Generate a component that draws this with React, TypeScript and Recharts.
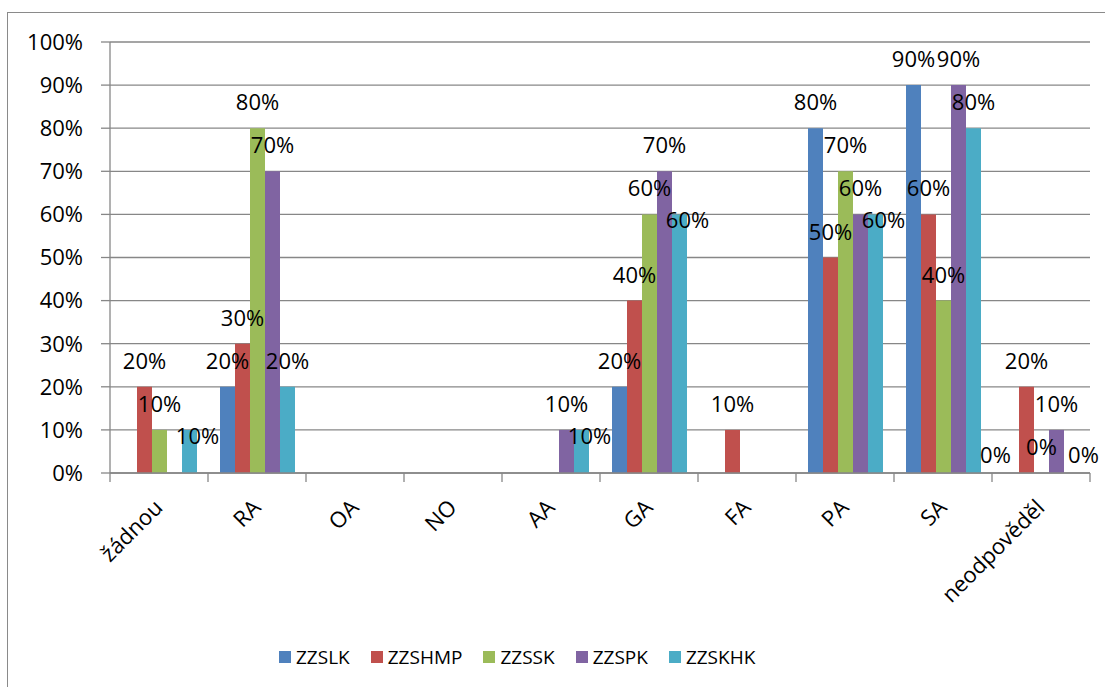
import { BarChart, Bar, XAxis, YAxis, CartesianGrid, Legend, LabelList } from "recharts";

// kategorie a hodnoty (v %), null = bez popisku
const categories = ["žádnou", "RA", "OA", "NO", "AA", "GA", "FA", "PA", "SA", "neodpověděl"];
const zzslk = [null, 20, null, null, null, 20, null, 80, 90, 0];
const zzshmp = [20, 30, null, null, null, 40, 10, 50, 60, 20];
const zzssk = [10, 80, null, null, null, 60, null, 70, 40, 0];
const zzspk = [null, 70, null, null, 10, 70, null, 60, 90, 10];
const zzskhk = [10, 20, null, null, 10, 60, null, 60, 80, 0];
const yTicks = [0, 10, 20, 30, 40, 50, 60, 70, 80, 90, 100];

const series = [
  { key: "ZZSLK", values: zzslk, color: "#4F81BD" },
  { key: "ZZSHMP", values: zzshmp, color: "#C0504D" },
  { key: "ZZSSK", values: zzssk, color: "#9BBB59" },
  { key: "ZZSPK", values: zzspk, color: "#8064A2" },
  { key: "ZZSKHK", values: zzskhk, color: "#4BACC6" },
];

const data = categories.map((name, i) => {
  const row: Record<string, any> = { name };
  series.forEach((s) => (row[s.key] = s.values[i]));
  return row;
});

const FONT = "'Open Sans', sans-serif";
const GRID = "#878787";
const W = 1105;
const H = 687;
const PLOT_TOP = 42;
const PLOT_BOTTOM = 473;
const PLOT_LEFT = 110;
const PLOT_RIGHT = 1090;
const BAND = (PLOT_RIGHT - PLOT_LEFT) / categories.length;
const BAR = 15;
const PX_PER_PCT = (PLOT_BOTTOM - PLOT_TOP) / 100;

// popisek osy X otočený o 45° + čárky na hranicích kategorií
const XTick = (props: any) => {
  const { x, y, payload, index } = props;
  const half = BAND / 2;
  return (
    <g>
      <line x1={x - half} x2={x - half} y1={y} y2={y + 9} stroke={GRID} strokeWidth={1.3} />
      {index === categories.length - 1 && (
        <line x1={x + half} x2={x + half} y1={y} y2={y + 9} stroke={GRID} strokeWidth={1.3} />
      )}
      <text
        transform={`translate(${x + 5},${y + 36}) rotate(-45)`}
        textAnchor="end"
        fontSize={22}
        fontFamily={FONT}
        fill="#000"
      >
        {payload.value}
      </text>
    </g>
  );
};

const LegendContent = (props: any) => {
  const items = [...(props.payload || [])].sort(
    (a: any, b: any) => series.findIndex((s) => s.key === a.value) - series.findIndex((s) => s.key === b.value)
  );
  return (
    <div style={{ display: "flex", alignItems: "center", fontFamily: FONT, fontSize: 19, color: "#000" }}>
      {items.map((p: any) => (
        <div key={p.value} style={{ display: "flex", alignItems: "center", marginRight: 21 }}>
          <span style={{ width: 12, height: 12, background: p.color, marginRight: 5, display: "inline-block" }} />
          {p.value}
        </div>
      ))}
    </div>
  );
};

const labelWidth = (v: number) => String(v).length * 12.5 + 18.5;

const overlaps = (a: number, b: number, dist: number) =>
  dist * BAR < (labelWidth(a) + labelWidth(b)) / 2 && Math.abs(a - b) * PX_PER_PCT < 20;

// popisek nad sloupcem; když by se překryl se sousedním, posune se
// (nulové popisky se roztáhnou do stran, ostatní jdou dolů)
const makeLabel = (si: number) => (props: any) => {
  const { x, y, width, value } = props;
  if (value === null || value === undefined) return null;
  const cat = Math.floor((x + width / 2 - PLOT_LEFT) / BAND);
  const cx = x + width / 2;
  let before = false;
  let after = false;
  series.forEach((s, k) => {
    const other = s.values[cat];
    if (k === si || other === null || other === undefined) return;
    if (overlaps(other, value, Math.abs(si - k))) {
      if (k < si) before = true;
      else after = true;
    }
  });
  let dx = 0;
  let dy = 0;
  if (value === 0) {
    if (before && !after) {
      dx = 12;
      dy = 8;
    } else if (after && !before) {
      dx = -16;
      dy = 8;
    }
  } else if (before) {
    dx = 8;
    dy = 32;
  }
  return (
    <text x={cx + dx} y={y - 18 + dy} textAnchor="middle" fontSize={22} fontFamily={FONT} fill="#000">
      {`${value}%`}
    </text>
  );
};

export default function App() {
  return (
    <div style={{ position: "absolute", left: 0, top: 0, width: W, height: H, overflow: "hidden", background: "#fff" }}>
      <div
        style={{
          position: "absolute",
          left: 7,
          top: 12,
          width: W + 20,
          height: H + 20,
          border: "1px solid #8a8a8a",
        }}
      />
      <BarChart
        width={W}
        height={H}
        data={data}
        margin={{ top: PLOT_TOP, right: W - PLOT_RIGHT, left: 0, bottom: 0 }}
        barGap={0}
        barSize={BAR}
      >
        <CartesianGrid vertical={false} stroke={GRID} strokeWidth={1.3} />
        <XAxis
          dataKey="name"
          height={H - PLOT_BOTTOM}
          interval={0}
          tickLine={false}
          tickSize={0}
          tickMargin={0}
          axisLine={{ stroke: GRID, strokeWidth: 1.3 }}
          tick={<XTick />}
        />
        <YAxis
          width={PLOT_LEFT}
          domain={[0, 100]}
          ticks={yTicks}
          interval={0}
          tickFormatter={(v) => `${v}%`}
          tickSize={9}
          tickMargin={18}
          axisLine={{ stroke: GRID, strokeWidth: 1.3 }}
          tickLine={{ stroke: GRID, strokeWidth: 1.3 }}
          tick={{ fill: "#000", fontSize: 22, fontFamily: FONT }}
        />
        <Legend
          layout="horizontal"
          verticalAlign="middle"
          align="center"
          wrapperStyle={{ top: 644, left: 279, width: 600 }}
          content={<LegendContent />}
        />
        {series.map((s, si) => (
          <Bar key={s.key} dataKey={s.key} fill={s.color} minPointSize={0.01} isAnimationActive={false}>
            <LabelList dataKey={s.key} content={makeLabel(si)} />
          </Bar>
        ))}
      </BarChart>
    </div>
  );
}
